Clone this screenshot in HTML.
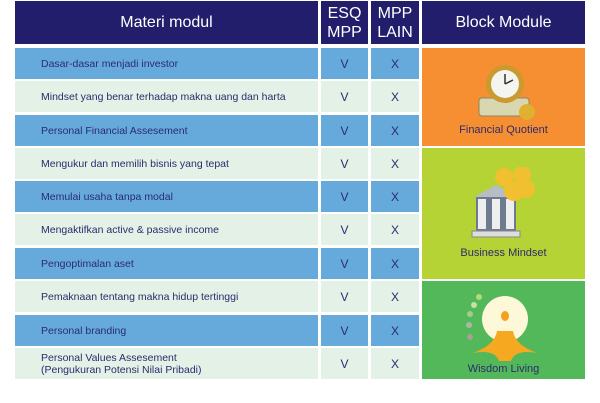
<!DOCTYPE html>
<html><head><style>
body{margin:0;width:600px;height:403px;background:#fff;position:relative;overflow:hidden;font-family:"Liberation Sans",sans-serif}
div.c{position:absolute;box-sizing:border-box}
.h{background:#221e6c;color:#fff;display:flex;align-items:center;justify-content:center;text-align:center;font-size:16px;line-height:19px}
.b{background:#66aadb}.l{background:#e3f1e6}
.t{color:#2d2b6e;font-size:10.5px;display:flex;align-items:center;padding-left:26px;line-height:12px}
.m{color:#2d2b6e;font-size:12px;display:flex;align-items:center;justify-content:center}
.k{display:flex;flex-direction:column;align-items:center;justify-content:flex-end;color:#2d2b6e;font-size:11px;padding-bottom:10px}
</style></head><body>
<div class="c h" style="left:15px;top:1px;width:303px;height:43px">Materi modul</div>
<div class="c h" style="left:321px;top:1px;width:47px;height:43px">ESQ<br>MPP</div>
<div class="c h" style="left:371px;top:1px;width:48px;height:43px">MPP<br>LAIN</div>
<div class="c h" style="left:422px;top:1px;width:163px;height:43px">Block Module</div>
<div id="rows"></div>
<div class="c k" style="left:422px;top:48px;width:163px;height:98px;background:#f58f32">
<svg width="70" height="62" viewBox="0 0 70 62"><rect x="10" y="36" width="50" height="18" rx="3" fill="#d8d7b0" stroke="#8a8560"/><circle cx="58" cy="50" r="8" fill="#e0b030"/><circle cx="36" cy="22" r="19" fill="#c99a2e"/><circle cx="36" cy="22" r="14" fill="#f4f4f0"/><line x1="36" y1="22" x2="36" y2="12" stroke="#333" stroke-width="1.5"/><line x1="36" y1="22" x2="44" y2="18" stroke="#333" stroke-width="1.5"/></svg>
Financial Quotient</div>
<div class="c k" style="left:422px;top:148px;width:163px;height:131px;background:#b5d334;padding-bottom:20px">
<svg width="80" height="80" viewBox="0 0 80 80"><polygon points="10,30 32,18 54,30" fill="#b8bcc4"/><rect x="12" y="30" width="40" height="34" fill="#6d7a90"/><rect x="14" y="32" width="8" height="30" fill="#eee"/><rect x="28" y="32" width="8" height="30" fill="#eee"/><rect x="42" y="32" width="8" height="30" fill="#eee"/><rect x="8" y="64" width="48" height="6" fill="#ddd" stroke="#888"/><circle cx="40" cy="10" r="9" fill="#f0c030"/><circle cx="58" cy="8" r="9" fill="#f0c030"/><circle cx="50" cy="24" r="10" fill="#f0c030"/><circle cx="62" cy="22" r="9" fill="#f0c030"/></svg>
Business Mindset</div>
<div class="c k" style="left:422px;top:281px;width:163px;height:98px;background:#52b85a;padding-bottom:4px">
<svg width="90" height="70" viewBox="0 0 90 70"><circle cx="20" cy="4" r="3" fill="#b5d97a"/><circle cx="15" cy="12" r="3" fill="#c8e0a0"/><circle cx="11" cy="21" r="3" fill="#a9c890"/><circle cx="10" cy="32" r="3" fill="#aab8a0"/><circle cx="11" cy="44" r="3" fill="#a8a090"/><circle cx="46" cy="26" r="23" fill="#fdf8d8"/><ellipse cx="46" cy="23" rx="4" ry="5" fill="#f5a020"/><path d="M14 60 Q36 52 38 38 L54 38 Q56 52 78 60 Q56 56 52 68 L40 68 Q36 56 14 60Z" fill="#f5a820"/></svg>
Wisdom Living</div>
<script>
var d=["Dasar-dasar menjadi investor","Mindset yang benar terhadap makna uang dan harta","Personal Financial Assesement","Mengukur dan memilih bisnis yang tepat","Memulai usaha tanpa modal","Mengaktifkan active &amp; passive income","Pengoptimalan aset","Pemaknaan tentang makna hidup tertinggi","Personal branding","Personal Values Assesement<br>(Pengukuran Potensi Nilai Pribadi)"];
var tops=[48,81,115,148,181,214,248,281,315,348],h="";
for(var i=0;i<10;i++){var c=i%2?"l":"b",t=tops[i];
h+='<div class="c t '+c+'" style="left:15px;top:'+t+'px;width:303px;height:31px">'+d[i]+'</div>';
h+='<div class="c m '+c+'" style="left:321px;top:'+t+'px;width:47px;height:31px">V</div>';
h+='<div class="c m '+c+'" style="left:371px;top:'+t+'px;width:48px;height:31px">X</div>';}
document.getElementById("rows").outerHTML=h;
</script>
</body></html>
